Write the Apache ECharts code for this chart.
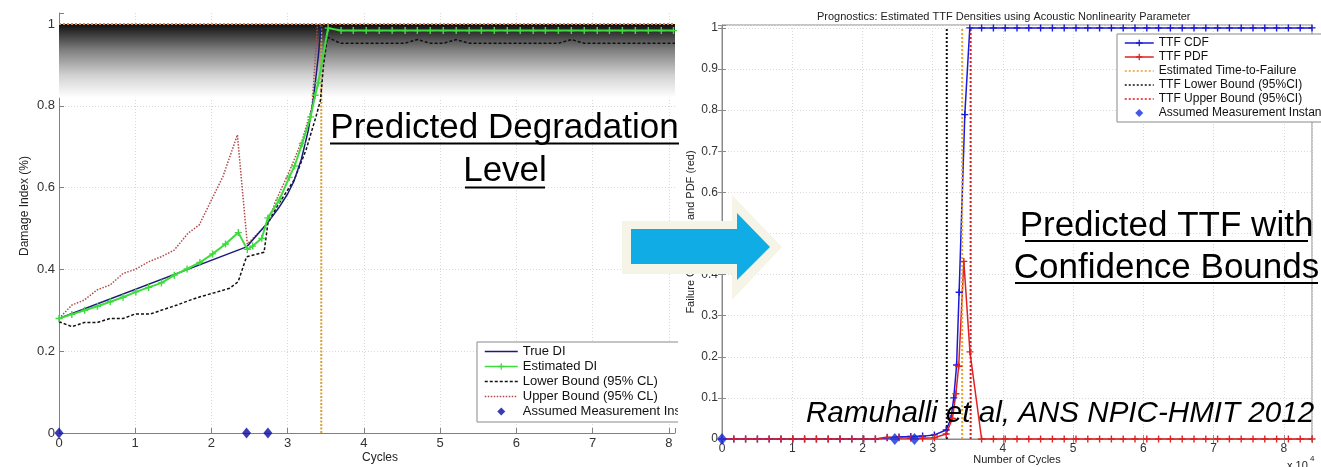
<!DOCTYPE html>
<html><head><meta charset="utf-8">
<script src="https://cdn.jsdelivr.net/npm/echarts@6/dist/echarts.min.js"></script>
<style>
html,body{margin:0;padding:0;background:#fff;}
#wrap{position:relative;width:1321px;height:467px;overflow:hidden;background:#fff;}
#left{position:absolute;left:0;top:0;width:678px;height:467px;}
#right{position:absolute;left:678px;top:0;width:643px;height:467px;background:#fff;}
#over{position:absolute;left:0;top:0;width:1321px;height:467px;pointer-events:none;}
</style></head><body>
<div id="wrap"><div id="left"></div><div id="right"></div><div id="over"></div></div>
<script>
// ===== Left chart data: Damage Index vs Cycles (x 10^4) =====
const trueDiX = [0, 2.46, 2.74, 2.88, 3.00, 3.08, 3.18, 3.27, 3.34, 3.40, 3.44];
const trueDiY = [0.28, 0.455, 0.515, 0.55, 0.585, 0.615, 0.67, 0.74, 0.82, 0.92, 1.0];
const estDiX = [0, 0.168, 0.336, 0.504, 0.672, 0.84, 1.008, 1.176, 1.344, 1.512, 1.68, 1.848, 2.016, 2.184, 2.352,
  2.47, 2.54, 2.66, 2.74, 2.89, 3.02, 3.09, 3.19, 3.30, 3.36, 3.40,
  3.53, 3.70, 3.86, 4.03, 4.20, 4.37, 4.54, 4.70, 4.87, 5.04, 5.21, 5.38, 5.54, 5.71, 5.88, 6.05, 6.22, 6.38, 6.55, 6.72, 6.89, 7.06, 7.22, 7.39, 7.56, 7.73, 7.90, 8.06];
const estDiY = [0.28, 0.29, 0.30, 0.31, 0.321, 0.332, 0.345, 0.356, 0.367, 0.386, 0.401, 0.417, 0.438, 0.462, 0.49,
  0.449, 0.457, 0.476, 0.526, 0.57, 0.625, 0.653, 0.708, 0.773, 0.826, 0.856,
  0.99, 0.984, 0.984, 0.984, 0.984, 0.984, 0.984, 0.984, 0.984, 0.984, 0.984, 0.984, 0.984, 0.984, 0.984, 0.984, 0.984, 0.984, 0.984, 0.984, 0.984, 0.984, 0.984, 0.984, 0.984, 0.984, 0.984, 0.984];
const lowX = [0, 0.17, 0.33, 0.5, 0.67, 0.84, 1.0, 1.2, 1.34, 1.55, 1.72, 1.85, 2.02, 2.24, 2.35, 2.46, 2.69, 2.74, 2.87, 3.085,
  3.24, 3.37, 3.43, 3.47, 3.52, 3.69, 4.53, 4.70, 4.87, 5.04, 5.21, 5.38, 6.55, 6.72, 6.89, 8.08];
const lowY = [0.272, 0.26, 0.27, 0.27, 0.28, 0.28, 0.291, 0.291, 0.30, 0.313, 0.325, 0.333, 0.342, 0.354, 0.37, 0.431, 0.442, 0.513, 0.557, 0.619,
  0.692, 0.773, 0.814, 0.90, 0.968, 0.953, 0.953, 0.962, 0.953, 0.953, 0.962, 0.953, 0.953, 0.962, 0.953, 0.953];
const upX = [0, 0.17, 0.33, 0.5, 0.67, 0.84, 1.0, 1.18, 1.34, 1.51, 1.69, 1.84, 2.0, 2.15, 2.34, 2.47, 2.74, 2.84, 3.02, 3.19, 3.32, 3.39];
const upY = [0.28, 0.313, 0.325, 0.35, 0.362, 0.39, 0.40, 0.419, 0.431, 0.447, 0.488, 0.509, 0.57, 0.627, 0.729, 0.462, 0.513, 0.566, 0.639, 0.716, 0.798, 1.0];
const measX = [0, 2.46, 2.74];
const measY = [0, 0, 0];
const leftTtf = 3.44;
const leftTtfSpan = [0, 1];
const shadeBand = [0.82, 1.0];
const leftTopLevel = 1.0;

// ===== Right chart data: TTF CDF / PDF vs Number of Cycles (x 10^4) =====
const cdfX = [0, 0.168, 0.336, 0.504, 0.672, 0.84, 1.008, 1.176, 1.344, 1.512, 1.68, 1.848, 2.016, 2.184, 2.352, 2.52, 2.688, 2.856, 3.024, 3.192,
  3.26, 3.30, 3.34, 3.376, 3.457,
  3.528, 3.696, 3.864, 4.032, 4.2, 4.368, 4.536, 4.704, 4.872, 5.04, 5.208, 5.376, 5.544, 5.712, 5.88, 6.048, 6.216, 6.384, 6.552, 6.72, 6.888, 7.056, 7.224, 7.392, 7.56, 7.728, 7.896, 8.064, 8.232, 8.4];
const cdfY = [0, 0, 0, 0, 0, 0, 0, 0, 0, 0, 0, 0, 0, 0, 0.003, 0.005, 0.006, 0.007, 0.01, 0.022,
  0.05, 0.1, 0.18, 0.357, 0.789,
  1, 1, 1, 1, 1, 1, 1, 1, 1, 1, 1, 1, 1, 1, 1, 1, 1, 1, 1, 1, 1, 1, 1, 1, 1, 1, 1, 1, 1, 1];
const pdfX = [0, 0.168, 0.336, 0.504, 0.672, 0.84, 1.008, 1.176, 1.344, 1.512, 1.68, 1.848, 2.016, 2.184, 2.352, 2.52, 2.688, 2.856, 3.024, 3.192,
  3.28, 3.33, 3.37, 3.443, 3.53,
  3.696, 3.864, 4.032, 4.2, 4.368, 4.536, 4.704, 4.872, 5.04, 5.208, 5.376, 5.544, 5.712, 5.88, 6.048, 6.216, 6.384, 6.552, 6.72, 6.888, 7.056, 7.224, 7.392, 7.56, 7.728, 7.896, 8.064, 8.232, 8.4];
const pdfY = [0, 0, 0, 0, 0, 0, 0, 0, 0, 0, 0, 0, 0, 0, 0.004, 0.003, 0.002, 0.002, 0.003, 0.012,
  0.05, 0.11, 0.177, 0.432, 0.212,
  0, 0, 0, 0, 0, 0, 0, 0, 0, 0, 0, 0, 0, 0, 0, 0, 0, 0, 0, 0, 0, 0, 0, 0, 0, 0, 0, 0, 0];
const ttfEst = 3.42;
const ttfLower = 3.20;
const ttfUpper = 3.54;
const ttfSpan = [0, 1];

// ===== helpers =====
const F = '"Liberation Sans", Arial, Helvetica, sans-serif';
const zip = (xs, ys) => xs.map((x, i) => [x, ys[i]]);
const vline = (x, span) => [[x, span[0]], [x, span[1]]];
const PLUS = 'path://M4,0h2v10h-2z M0,4h10v2h-10z';
const DIAMOND_L = 'path://M0,0 M33,8 M16.5,0 L20.5,4 L16.5,8 L12.5,4 Z';
const DIAMOND_R = 'path://M0,0 M29,8 M14.5,0 L18.5,4 L14.5,8 L10.5,4 Z';
const gridLine = { color: '#d9d9d9', type: [1, 2], width: 1 };
const intLabel = v => (Math.abs(v - Math.round(v)) < 1e-6 ? String(Math.round(v)) : '');
const stepLabel = step => v => { const k = v / step; return Math.abs(k - Math.round(k)) < 1e-6 ? String(+v.toFixed(1)) : ''; };
const noSym = { itemStyle: { opacity: 0 } };

// ===== Left chart =====
const left = echarts.init(document.getElementById('left'), null, { renderer: 'canvas' });
left.setOption({
  animation: false,
  backgroundColor: '#fff',
  grid: { left: 59, top: 13, width: 617, height: 420 },
  xAxis: {
    type: 'value', min: 0, max: 8.08, interval: 1,
    axisLine: { onZero: false, lineStyle: { color: '#808080' } },
    axisTick: { inside: true, length: 5, lineStyle: { color: '#808080' } },
    axisLabel: { formatter: intLabel, color: '#333', fontSize: 13, fontFamily: F, margin: 4 },
    splitLine: { show: true, showMaxLine: false, lineStyle: gridLine }
  },
  yAxis: {
    type: 'value', min: 0, max: 1.027, interval: 0.2,
    axisLine: { show: true, onZero: false, lineStyle: { color: '#808080' } },
    axisTick: { show: true, inside: true, length: 5, lineStyle: { color: '#808080' } },
    axisLabel: { formatter: stepLabel(0.2), color: '#333', fontSize: 13, fontFamily: F, margin: 4 },
    splitLine: { show: true, showMaxLine: false, lineStyle: gridLine }
  },
  legend: {
    orient: 'vertical', left: 477, top: 342,
    backgroundColor: '#fff', borderColor: '#8a8a8a', borderWidth: 1, borderRadius: 0,
    padding: [2, 8, 3, 7], itemWidth: 33, itemHeight: 8, itemGap: 0,
    lineStyle: { width: 1.5 },
    textStyle: { fontSize: 13, lineHeight: 15, color: '#111', fontFamily: F },
    data: [
      Object.assign({ name: 'True DI' }, noSym),
      { name: 'Estimated DI' },
      Object.assign({ name: 'Lower Bound (95% CL)' }, noSym),
      Object.assign({ name: 'Upper Bound (95% CL)' }, noSym),
      { name: 'Assumed Measurement Instances', icon: DIAMOND_L }
    ]
  },
  graphic: { elements: [
    { type: 'text', x: 25, y: 206, rotation: Math.PI / 2, silent: true,
      style: { text: 'Damage Index (%)', fontSize: 12, fontFamily: F, fill: '#222', align: 'center', verticalAlign: 'middle', textAlign: 'center', textVerticalAlign: 'middle' } },
    { type: 'text', x: 380, y: 458, silent: true,
      style: { text: 'Cycles', fontSize: 12, fontFamily: F, fill: '#222', align: 'center', verticalAlign: 'middle', textAlign: 'center', textVerticalAlign: 'middle' } }
  ] },
  series: [
    { name: 'Estimated Time-to-Failure', type: 'line', data: vline(leftTtf, leftTtfSpan), symbol: 'none', z: 3,
      lineStyle: { color: '#d6a23c', width: 2, type: [2, 1.5] }, itemStyle: { color: '#d6a23c' },
      markArea: { silent: true, label: { show: false },
        itemStyle: { color: new echarts.graphic.LinearGradient(0, 0, 0, 1, [
          { offset: 0, color: '#0e0e0e' }, { offset: 0.35, color: '#7e7e7e' }, { offset: 0.7, color: '#d2d2d2' }, { offset: 1, color: '#ffffff' }]) },
        data: [[{ yAxis: shadeBand[1] }, { yAxis: shadeBand[0] }]] },
      markLine: { silent: true, symbol: 'none', label: { show: false }, animation: false,
        lineStyle: { color: '#d98a4a', width: 2, type: [2, 2] }, data: [{ yAxis: leftTopLevel }] } },
    { name: 'Lower Bound (95% CL)', type: 'line', data: zip(lowX, lowY), symbol: 'none',
      lineStyle: { color: '#111', width: 1.5, type: [3, 2] }, itemStyle: { color: '#111' } },
    { name: 'Upper Bound (95% CL)', type: 'line', data: zip(upX, upY), symbol: 'none',
      lineStyle: { color: '#b04a4a', width: 1.5, type: [1.5, 1.5] }, itemStyle: { color: '#b04a4a' } },
    { name: 'True DI', type: 'line', data: zip(trueDiX, trueDiY), symbol: 'none',
      lineStyle: { color: '#1b1b7a', width: 1.5 }, itemStyle: { color: '#1b1b7a' } },
    { name: 'Estimated DI', type: 'line', data: zip(estDiX, estDiY), symbol: PLUS, symbolSize: 7,
      lineStyle: { color: '#3cdc3c', width: 2 }, itemStyle: { color: '#3cdc3c' } },
    { name: 'Assumed Measurement Instances', type: 'scatter', data: zip(measX, measY), symbol: 'diamond', symbolSize: [9, 11],
      itemStyle: { color: '#0a0aa0' }, z: 6 }
  ]
});

// ===== Right chart =====
const right = echarts.init(document.getElementById('right'), null, { renderer: 'canvas' });
right.setOption({
  animation: false,
  backgroundColor: '#fff',
  title: { text: 'Prognostics: Estimated TTF Densities using Acoustic Nonlinearity Parameter', left: 134, top: 6,
    textStyle: { fontSize: 11, fontWeight: 'normal', color: '#222', fontFamily: F } },
  grid: { left: 44, top: 25, width: 590, height: 414, show: true, borderColor: '#8a8a8a', borderWidth: 1 },
  xAxis: [
    { type: 'value', min: 0, max: 8.4, interval: 1, position: 'bottom',
      axisLine: { onZero: false, lineStyle: { color: '#8a8a8a' } },
      axisTick: { inside: true, length: 4, lineStyle: { color: '#8a8a8a' } },
      axisLabel: { formatter: intLabel, color: '#333', fontSize: 12, fontFamily: F, margin: 4 },
      splitLine: { show: true, lineStyle: gridLine } },
    { type: 'value', min: 0, max: 8.4, interval: 1, position: 'top',
      axisLine: { show: false }, axisTick: { inside: true, length: 4, lineStyle: { color: '#8a8a8a' } },
      axisLabel: { show: false }, splitLine: { show: false } }
  ],
  yAxis: [
    { type: 'value', min: 0, max: 1.007, interval: 0.1, position: 'left',
      axisLine: { show: true, onZero: false, lineStyle: { color: '#8a8a8a' } },
      axisTick: { show: true, inside: true, length: 4, lineStyle: { color: '#8a8a8a' } },
      axisLabel: { formatter: stepLabel(0.1), color: '#333', fontSize: 12, fontFamily: F, margin: 4 },
      splitLine: { show: true, lineStyle: gridLine } },
    { type: 'value', min: 0, max: 1.007, interval: 0.1, position: 'right',
      axisLine: { show: false }, axisTick: { show: true, inside: true, length: 4, lineStyle: { color: '#8a8a8a' } },
      axisLabel: { show: false }, splitLine: { show: false } }
  ],
  legend: {
    orient: 'vertical', left: 439, top: 34,
    backgroundColor: '#fff', borderColor: '#8a8a8a', borderWidth: 1,
    padding: [2, 8, 2, 7], itemWidth: 29, itemHeight: 8, itemGap: 0,
    lineStyle: { width: 1.5 },
    textStyle: { fontSize: 12, lineHeight: 14, color: '#111', fontFamily: F },
    data: [
      { name: 'TTF CDF' }, { name: 'TTF PDF' },
      Object.assign({ name: 'Estimated Time-to-Failure' }, noSym),
      Object.assign({ name: 'TTF Lower Bound (95%CI)' }, noSym),
      Object.assign({ name: 'TTF Upper Bound (95%CI)' }, noSym),
      { name: 'Assumed Measurement Instances', icon: DIAMOND_R }
    ]
  },
  graphic: { elements: [
    { type: 'text', x: 13, y: 232, rotation: Math.PI / 2, silent: true,
      style: { text: 'Failure CDF (blue) and PDF (red)', fontSize: 11, fontFamily: F, fill: '#222', align: 'center', verticalAlign: 'middle', textAlign: 'center', textVerticalAlign: 'middle' } },
    { type: 'text', x: 339, y: 460, silent: true,
      style: { text: 'Number of Cycles', fontSize: 11, fontFamily: F, fill: '#222', align: 'center', verticalAlign: 'middle', textAlign: 'center', textVerticalAlign: 'middle' } },
    { type: 'text', x: 609, y: 466, silent: true,
      style: { text: 'x 10', fontSize: 11, fontFamily: F, fill: '#222', align: 'left', verticalAlign: 'middle', textAlign: 'left', textVerticalAlign: 'middle' } },
    { type: 'text', x: 632, y: 459, silent: true,
      style: { text: '4', fontSize: 8, fontFamily: F, fill: '#222', align: 'left', verticalAlign: 'middle', textAlign: 'left', textVerticalAlign: 'middle' } }
  ] },
  series: [
    { name: 'TTF CDF', type: 'line', data: zip(cdfX, cdfY), symbol: PLUS, symbolSize: 7,
      lineStyle: { color: '#1a1ad8', width: 1.5 }, itemStyle: { color: '#1a1ad8' } },
    { name: 'TTF PDF', type: 'line', data: zip(pdfX, pdfY), symbol: PLUS, symbolSize: 7,
      lineStyle: { color: '#e02222', width: 1.5 }, itemStyle: { color: '#e02222' } },
    { name: 'Estimated Time-to-Failure', type: 'line', data: vline(ttfEst, ttfSpan), symbol: 'none',
      lineStyle: { color: '#e8a22a', width: 2, type: [2, 2] }, itemStyle: { color: '#e8a22a' } },
    { name: 'TTF Lower Bound (95%CI)', type: 'line', data: vline(ttfLower, ttfSpan), symbol: 'none',
      lineStyle: { color: '#111', width: 2, type: [2, 2] }, itemStyle: { color: '#111' } },
    { name: 'TTF Upper Bound (95%CI)', type: 'line', data: vline(ttfUpper, ttfSpan), symbol: 'none',
      lineStyle: { color: '#e01818', width: 2, type: [2, 2] }, itemStyle: { color: '#e01818' } },
    { name: 'Assumed Measurement Instances', type: 'scatter', data: zip(measX, measY), symbol: 'diamond', symbolSize: [10, 12],
      itemStyle: { color: '#1030e0' }, z: 6 }
  ]
});

// ===== Overlay: arrow and slide annotations =====
const over = echarts.init(document.getElementById('over'), null, { renderer: 'canvas' });
const T = (text, x, y, size, extra) => ({ type: 'text', x, y, silent: true,
  style: Object.assign({ text, fontSize: size, fontFamily: F, fill: '#000', align: 'center', verticalAlign: 'middle', textAlign: 'center', textVerticalAlign: 'middle' }, extra || {}) });
const U = (x1, x2, y) => ({ type: 'rect', silent: true, shape: { x: x1, y: y, width: x2 - x1, height: 2 }, style: { fill: '#000' } });
over.setOption({
  animation: false,
  graphic: { elements: [
    { type: 'polygon', silent: true, shape: { points: [[622, 221], [732, 221], [732, 195], [782, 247], [732, 300], [732, 274], [622, 274]] }, style: { fill: '#f6f4e6' } },
    { type: 'polygon', silent: true, shape: { points: [[631, 229], [737, 229], [737, 213], [770, 247], [737, 280], [737, 264], [631, 264]] }, style: { fill: '#10ace6' } },
    T('Predicted Degradation', 504.5, 128, 35), U(330, 679, 142.5),
    T('Level', 505, 171, 35), U(465, 545, 186.5),
    T('Predicted TTF with', 1166.5, 226, 35), U(1025, 1308, 240),
    T('Confidence Bounds', 1166.5, 268, 35), U(1015, 1318, 282),
    T('Ramuhalli et al, ANS NPIC-HMIT 2012', 806, 413.5, 29.6, { fontStyle: 'italic', align: 'left', textAlign: 'left' })
  ] }
});
</script>
</body></html>
